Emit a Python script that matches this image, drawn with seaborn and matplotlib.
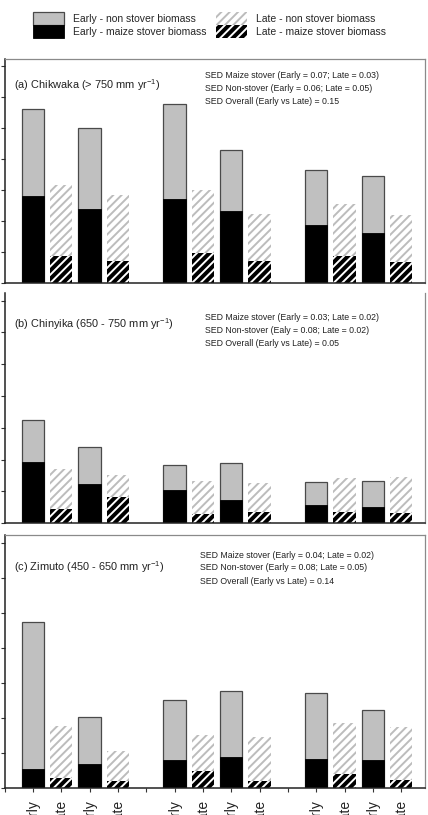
import numpy as np
import pandas as pd
import matplotlib
matplotlib.use('Agg')
import matplotlib.pyplot as plt
import seaborn as sns
from matplotlib.patches import Patch

# bar positions (empty slots at 5 and 10 separate the three groups)
positions = [1, 2, 3, 4, 6, 7, 8, 9, 11, 12, 13, 14]
seasons = ['Early', 'Late'] * 6

# biomass per bar
chikwaka_stover = [1.40, 0.43, 1.19, 0.36, 1.36, 0.49, 1.17, 0.35, 0.94, 0.44, 0.80, 0.34]
chikwaka_non_stover = [1.42, 1.15, 1.31, 1.06, 1.53, 1.01, 0.98, 0.77, 0.89, 0.83, 0.93, 0.76]
chinyika_stover = [0.97, 0.23, 0.61, 0.41, 0.52, 0.14, 0.37, 0.18, 0.28, 0.17, 0.25, 0.16]
chinyika_non_stover = [0.66, 0.63, 0.59, 0.35, 0.40, 0.53, 0.57, 0.45, 0.37, 0.54, 0.42, 0.56]
zimuto_stover = [0.27, 0.14, 0.34, 0.09, 0.39, 0.24, 0.44, 0.09, 0.41, 0.19, 0.39, 0.11]
zimuto_non_stover = [2.10, 0.74, 0.67, 0.44, 0.87, 0.51, 0.94, 0.63, 0.94, 0.74, 0.73, 0.76]

titles = ['(a) Chikwaka (> 750 mm yr$^{\\mathregular{-1}}$)',
          '(b) Chinyika (650 - 750 mm yr$^{\\mathregular{-1}}$)',
          '(c) Zimuto (450 - 650 mm yr$^{\\mathregular{-1}}$)']
sed_notes = [
    ['SED Maize stover (Early = 0.07; Late = 0.03)',
     'SED Non-stover (Early = 0.06; Late = 0.05)',
     'SED Overall (Early vs Late) = 0.15'],
    ['SED Maize stover (Early = 0.03; Late = 0.02)',
     'SED Non-stover (Ealy = 0.08; Late = 0.02)',
     'SED Overall (Early vs Late) = 0.05'],
    ['SED Maize stover (Early = 0.04; Late = 0.02)',
     'SED Non-stover (Early = 0.08; Late = 0.05)',
     'SED Overall (Early vs Late) = 0.14'],
]
legend_labels = ['Early - non stover biomass', 'Early - maize stover biomass',
                 'Late - non stover biomass', 'Late - maize stover biomass']

sns.set_style('white')
narrow = ['Liberation Sans Narrow', 'Liberation Sans', 'DejaVu Sans']
plt.rcParams['font.family'] = narrow
plt.rcParams['hatch.linewidth'] = 1.4

GREY = '#c0c0c0'
HATCH_GREY = '#bcbcbc'
EDGE = '#4a4a4a'

W, H = 428, 815
fig = plt.figure(figsize=(W / 100, H / 100), dpi=100)


def px(x, y):
    return x / W, 1 - y / H


# axes boxes in pixels: (top, bottom)
boxes = [(59, 283), (293, 523.3), (535, 787.7)]
panels = [(chikwaka_stover, chikwaka_non_stover),
          (chinyika_stover, chinyika_non_stover),
          (zimuto_stover, zimuto_non_stover)]
title_y = [85, 324, 567]
sed_pos = [(205, 75.7), (205, 317.3), (200, 555)]

for i, ((top, bottom), (stover, non_stover)) in enumerate(zip(boxes, panels)):
    ax = fig.add_axes([4.5 / W, 1 - bottom / H, 420 / W, (bottom - top) / H])
    df = pd.DataFrame({'pos': positions, 'season': seasons,
                       'stover': stover, 'non_stover': non_stover})
    df['total'] = df['stover'] + df['non_stover']

    sns.barplot(data=df, x='pos', y='total', native_scale=True, width=0.79,
                color=GREY, saturation=1, errorbar=None, ax=ax)
    sns.barplot(data=df, x='pos', y='stover', native_scale=True, width=0.79,
                color='black', saturation=1, errorbar=None, ax=ax)

    order = df.sort_values('pos')['season'].tolist()
    n = len(order)
    for j, p in enumerate(ax.patches):
        late = order[j % n] == 'Late'
        is_stover = j >= n
        if late and not is_stover:
            p.set_facecolor('white')
            p.set_edgecolor(HATCH_GREY)
            p.set_linewidth(0)
            p.set_hatch('////')
        elif late and is_stover:
            p.set_facecolor('black')
            p.set_edgecolor('white')
            p.set_linewidth(0)
            p.set_hatch('////')
        elif not is_stover:
            p.set_edgecolor(EDGE)
            p.set_linewidth(0.9)
        else:
            p.set_edgecolor('black')
            p.set_linewidth(0.6)

    ax.set_xlim(0, 14.82)
    ax.set_ylim(0, 3.62)
    ax.set_xlabel('')
    ax.set_ylabel('')
    ax.set_yticks(np.arange(0, 3.51, 0.5))
    ax.tick_params(axis='y', direction='out', length=3, width=0.8,
                   color='#333333', labelleft=False, left=True)

    if i == 2:
        ax.set_xticks(range(0, 15))
        lab = []
        k = 0
        for t in range(0, 15):
            if t in positions:
                lab.append(order[k])
                k += 1
            else:
                lab.append('')
        ax.set_xticklabels(lab, rotation=90, fontsize=10, va='top',
                           family=['Liberation Sans', 'DejaVu Sans'], color='#222222')
        ax.tick_params(axis='x', direction='out', length=3, width=0.8,
                       color='#333333', pad=5, bottom=True)
    else:
        ax.set_xticks([])

    for side in ['left', 'bottom']:
        ax.spines[side].set_color('#222222')
        ax.spines[side].set_linewidth(1.1)
    for side in ['top', 'right']:
        ax.spines[side].set_color('#8a8a8a')
        ax.spines[side].set_linewidth(0.9)
    if i == 1:
        ax.spines['top'].set_visible(False)

    fig.text(*px(14, title_y[i]), titles[i], fontsize=7.9, va='center',
             ha='left', color='#222222')
    sx, sy = sed_pos[i]
    for k, line in enumerate(sed_notes[i]):
        fig.text(*px(sx, sy + 13 * k), line, fontsize=6.3, va='center',
                 ha='left', color='#222222')

handles = [
    Patch(facecolor=GREY, edgecolor=EDGE, linewidth=0.9),
    Patch(facecolor='black', edgecolor='black', linewidth=0.6),
    Patch(facecolor='white', edgecolor=HATCH_GREY, linewidth=0, hatch='////'),
    Patch(facecolor='black', edgecolor='white', linewidth=0, hatch='////'),
]
fig.legend(handles=handles, labels=legend_labels, ncol=2, loc='upper left',
           bbox_to_anchor=px(33, 12.5), frameon=False, fontsize=7.5,
           handlelength=3.0, handleheight=1.5, labelspacing=0,
           handletextpad=0.85, columnspacing=0.9, borderpad=0,
           borderaxespad=0)

fig.savefig('out.png', dpi=100)
